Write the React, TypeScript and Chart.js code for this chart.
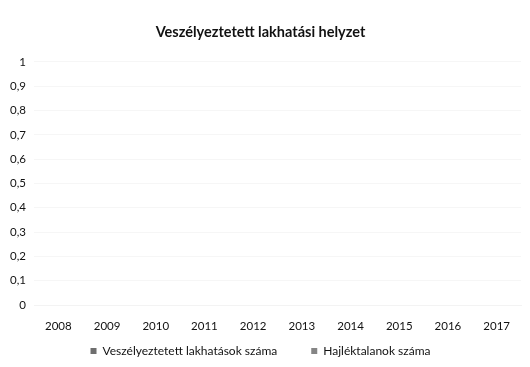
import React, { useEffect, useRef } from "react";
import { Chart, registerables } from "chart.js";

Chart.register(...registerables);

const categories = ["2008", "2009", "2010", "2011", "2012", "2013", "2014", "2015", "2016", "2017"];
const seriesNames = ["Veszélyeztetett lakhatások száma", "Hajléktalanok száma"];
// The reference chart holds no data: both series are empty.
const veszelyeztetett: (number | null)[] = [null, null, null, null, null, null, null, null, null, null];
const hajlektalanok: (number | null)[] = [null, null, null, null, null, null, null, null, null, null];
const yTickLabels = ["0", "0,1", "0,2", "0,3", "0,4", "0,5", "0,6", "0,7", "0,8", "0,9", "1"];
const title = "Veszélyeztetett lakhatási helyzet";

const FONT = "Lato, 'Open Sans', sans-serif";

export default function App() {
  const ref = useRef<HTMLCanvasElement | null>(null);

  useEffect(() => {
    if (!ref.current) return;
    const chart = new Chart(ref.current, {
      type: "bar",
      data: {
        labels: categories,
        datasets: [
          { label: seriesNames[0], data: veszelyeztetett, backgroundColor: "#6e6e6e", borderWidth: 0 },
          { label: seriesNames[1], data: hajlektalanok, backgroundColor: "#858585", borderWidth: 0 },
        ],
      },
      options: {
        animation: false,
        responsive: true,
        maintainAspectRatio: false,
        layout: { padding: { left: 0, right: 9, top: 0, bottom: 0 } },
        plugins: {
          title: {
            display: true,
            text: title,
            color: "#111",
            font: { family: FONT, size: 14.5, weight: "bold" },
            padding: { top: 24, bottom: 20.5 },
          },
          legend: {
            display: true,
            position: "bottom",
            labels: {
              color: "#111",
              font: { family: FONT, size: 12 },
              boxWidth: 6,
              boxHeight: 6,
              padding: 10,
              generateLabels: (c: any) => {
                const items = Chart.defaults.plugins.legend.labels.generateLabels(c);
                return items.map((it: any, i: number) =>
                  i === 0 ? { ...it, text: it.text + "\u2003\u2003\u2002" } : it
                );
              },
            },
          },
          tooltip: { enabled: false },
        },
        scales: {
          x: {
            grid: { display: false, drawTicks: false },
            border: { display: true, color: "#f3f3f3" },
            ticks: { color: "#111", font: { family: FONT, size: 11.5 }, padding: 14, maxRotation: 0 },
            afterFit: (s: any) => {
              s.height = 30;
            },
          },
          y: {
            min: 0,
            max: 1,
            grid: { color: "#f6f6f6", drawTicks: false },
            border: { display: false },
            ticks: {
              stepSize: 0.1,
              color: "#111",
              font: { family: FONT, size: 11.5 },
              padding: 8,
              callback: (_v: any, i: number) => yTickLabels[i],
            },
            afterFit: (s: any) => {
              s.width = 34;
            },
          },
        },
      },
    });
    return () => chart.destroy();
  }, []);

  return (
    <div style={{ position: "fixed", left: 0, top: 0, width: 530, height: 367, background: "#fff" }}>
      <canvas ref={ref} />
    </div>
  );
}
